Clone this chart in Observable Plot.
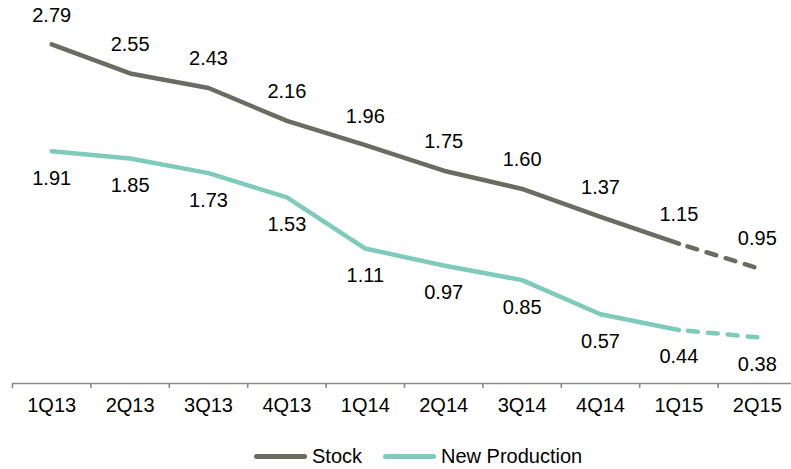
<!DOCTYPE html>
<html>
<head>
<meta charset="utf-8">
<script src="https://cdn.jsdelivr.net/npm/d3@7"></script>
<script src="https://cdn.jsdelivr.net/npm/@observablehq/plot@0.6"></script>
<style>
  html, body { margin: 0; padding: 0; background: #fff; overflow: hidden; }
  #wrap { position: relative; width: 791px; height: 469px; font-family: "Liberation Sans", Arial, sans-serif; }
  #legend { position: absolute; left: 254px; top: 445px; display: flex; align-items: center; font-size: 20px; color: #000; }
  .item { display: flex; align-items: center; margin-right: 21px; }
  .sw { width: 53px; height: 5px; border-radius: 3px; margin-right: 5px; }
</style>
</head>
<body>
<div id="wrap"></div>
<script>
const categories = ["1Q13","2Q13","3Q13","4Q13","1Q14","2Q14","3Q14","4Q14","1Q15","2Q15"];
const stock = [2.79, 2.55, 2.43, 2.16, 1.96, 1.75, 1.60, 1.37, 1.15, 0.95];
const newProduction = [1.91, 1.85, 1.73, 1.53, 1.11, 0.97, 0.85, 0.57, 0.44, 0.38];
const forecastFrom = 8; // last actual index; dashed after
const seriesNames = ["Stock", "New Production"];
const colors = ["#6a6c61", "#7ecbbc"];

const rows = [];
categories.forEach((c, i) => {
  rows.push({i, cat: c, series: seriesNames[0], v: stock[i]});
  rows.push({i, cat: c, series: seriesNames[1], v: newProduction[i]});
});
const solid = rows.filter(d => d.i <= forecastFrom);
const dashed = rows.filter(d => d.i >= forecastFrom);
const idx = categories.map((_, i) => i);
const bounds = categories.map((_, i) => i - 0.5);

const chart = Plot.plot({
  width: 791,
  height: 430,
  marginLeft: 12,
  marginRight: 0,
  marginTop: 0,
  marginBottom: 47,
  style: {fontFamily: "Liberation Sans, Arial, sans-serif", fontSize: "20px", color: "#000", background: "#fff"},
  x: {type: "linear", domain: [-0.5, categories.length - 0.5], range: [12, 796], label: null},
  y: {domain: [0, 3.15], axis: null},
  color: {domain: seriesNames, range: colors},
  marks: [
    Plot.ruleY([0], {stroke: "#8a8a8a", strokeWidth: 1.6}),
    Plot.axisX({ticks: bounds, tickFormat: () => "", tickSize: 5, stroke: "#8a8a8a", strokeWidth: 1.6, label: null}),
    Plot.axisX({ticks: idx, tickSize: 0, tickPadding: 14, tickFormat: i => categories[i], fontSize: 20, fill: "#000", label: null}),
    Plot.line(solid, {x: "i", y: "v", z: "series", stroke: "series", strokeWidth: 4.5, strokeLinecap: "round", strokeLinejoin: "round"}),
    Plot.line(dashed, {x: "i", y: "v", z: "series", stroke: "series", strokeWidth: 4.5, strokeLinecap: "round", strokeDasharray: "10,10", strokeDashoffset: -9}),
    Plot.text(rows.filter(d => d.series === seriesNames[0]), {x: "i", y: "v", text: d => d.v.toFixed(2), dy: -29, fill: "#000", fontSize: 20}),
    Plot.text(rows.filter(d => d.series === seriesNames[1]), {x: "i", y: "v", text: d => d.v.toFixed(2), dy: 27, fill: "#000", fontSize: 20})
  ]
});
const wrap = document.getElementById("wrap");
wrap.appendChild(chart);

const legend = document.createElement("div");
legend.id = "legend";
seriesNames.forEach((s, k) => {
  const it = document.createElement("div");
  it.className = "item";
  const sw = document.createElement("span");
  sw.className = "sw";
  sw.style.background = colors[k];
  const t = document.createElement("span");
  t.textContent = s;
  it.appendChild(sw); it.appendChild(t);
  legend.appendChild(it);
});
wrap.appendChild(legend);
</script>
</body>
</html>
